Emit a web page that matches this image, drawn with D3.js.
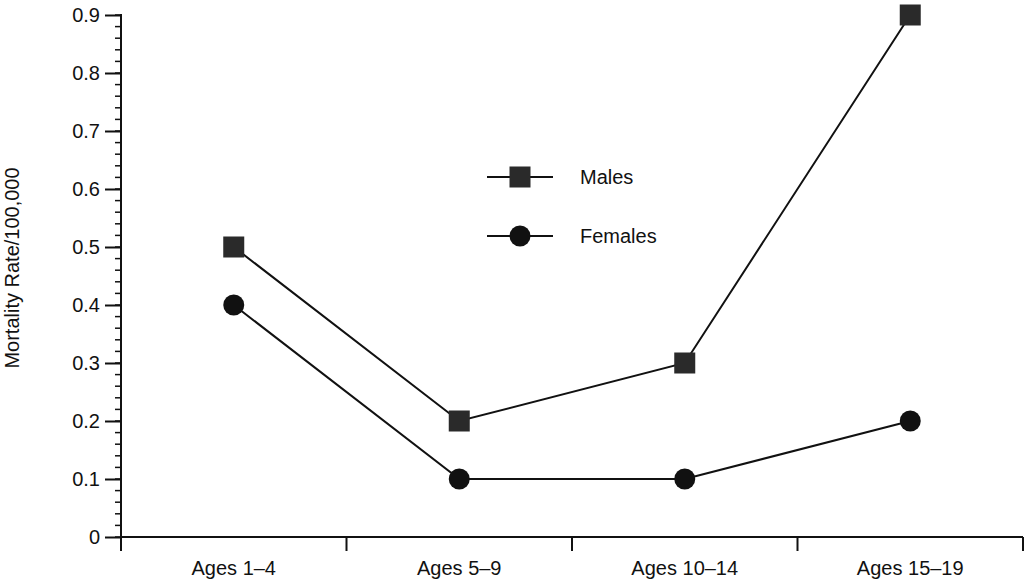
<!DOCTYPE html>
<html>
<head>
<meta charset="utf-8">
<script src="https://cdn.jsdelivr.net/npm/d3@7/dist/d3.min.js"></script>
<style>
  html, body { margin: 0; padding: 0; background: #fff; }
  svg { display: block; }
  text { font-family: "Liberation Sans", Arial, Helvetica, sans-serif; fill: #111; }
</style>
</head>
<body>
<svg id="chart" width="1025" height="584"></svg>
<script>
const categories = ["Ages 1–4", "Ages 5–9", "Ages 10–14", "Ages 15–19"];
const males = [0.5, 0.2, 0.3, 0.9];
const females = [0.4, 0.1, 0.1, 0.2];
const yTicks = [0, 0.1, 0.2, 0.3, 0.4, 0.5, 0.6, 0.7, 0.8, 0.9];
const yTickLabels = ["0", "0.1", "0.2", "0.3", "0.4", "0.5", "0.6", "0.7", "0.8", "0.9"];
const seriesNames = ["Males", "Females"];
const yLabel = "Mortality Rate/100,000";

(function () {
const svg = d3.select("#chart");
const mL = 121, mR = 1023, mT = 15, mB = 537;
const FS = 20;

const x = d3.scaleBand().domain(categories).range([mL, mR]).padding(0);
const y = d3.scaleLinear().domain([0, 0.9]).range([mB, mT]);

// Y axis
const yAxisG = svg.append("g").attr("transform", `translate(${mL},0)`);
const minor = d3.range(0, 0.9001, 0.02).map(v => +v.toFixed(2));
yAxisG.selectAll("line.minor").data(minor).join("line").attr("class", "minor")
  .attr("x1", -6).attr("x2", 0)
  .attr("y1", d => y(d)).attr("y2", d => y(d))
  .attr("stroke", "#111").attr("stroke-width", 1.5);
const yAxis = d3.axisLeft(y).tickValues(yTicks)
  .tickFormat((d, i) => yTickLabels[i]).tickSize(16).tickPadding(5);
yAxisG.call(yAxis);
yAxisG.select(".domain").remove();
yAxisG.append("line").attr("x1", 0).attr("x2", 0).attr("y1", mT - 1).attr("y2", mB + 14)
  .attr("stroke", "#111").attr("stroke-width", 2);
yAxisG.selectAll(".tick line").attr("stroke", "#111").attr("stroke-width", 2);
yAxisG.selectAll(".tick text").attr("font-size", FS).style("font-family", '"Liberation Sans", Arial, sans-serif').attr("fill", "#111");

// X axis
const xAxisG = svg.append("g").attr("transform", `translate(0,${mB})`);
xAxisG.append("line").attr("x1", mL).attr("x2", mR).attr("y1", 0).attr("y2", 0)
  .attr("stroke", "#111").attr("stroke-width", 2);
const bounds = categories.map(c => x(c)).concat([mR]);
xAxisG.selectAll("line.xt").data(bounds.slice(1)).join("line").attr("class", "xt")
  .attr("x1", d => d).attr("x2", d => d).attr("y1", 0).attr("y2", 14)
  .attr("stroke", "#111").attr("stroke-width", 2);
xAxisG.selectAll("text.xl").data(categories).join("text").attr("class", "xl")
  .attr("x", d => x(d) + x.bandwidth() / 2).attr("y", 38)
  .attr("text-anchor", "middle").attr("font-size", FS).text(d => d);

// Y label
svg.append("text")
  .attr("transform", `translate(19,268) rotate(-90)`)
  .attr("text-anchor", "middle").attr("font-size", FS).text(yLabel);

const cx = i => x(categories[i]) + x.bandwidth() / 2;
const line = d3.line().x((d, i) => cx(i)).y(d => y(d));

[males, females].forEach(s => {
  svg.append("path").datum(s).attr("d", line)
    .attr("fill", "none").attr("stroke", "#111").attr("stroke-width", 2);
});

const sq = 21, cr = 10.5;
const markerFill = "#2a2a2a";
svg.selectAll("rect.m").data(males).join("rect").attr("class", "m")
  .attr("x", (d, i) => cx(i) - sq / 2).attr("y", d => y(d) - sq / 2)
  .attr("width", sq).attr("height", sq).attr("fill", markerFill);
svg.selectAll("circle.f").data(females).join("circle").attr("class", "f")
  .attr("cx", (d, i) => cx(i)).attr("cy", d => y(d))
  .attr("r", cr).attr("fill", "#111");

// Legend
const legend = svg.append("g");
const legY = [177, 236];
legend.selectAll("line").data(seriesNames).join("line")
  .attr("x1", 487).attr("x2", 553).attr("y1", (d, i) => legY[i]).attr("y2", (d, i) => legY[i])
  .attr("stroke", "#111").attr("stroke-width", 2);
legend.append("rect").attr("x", 520 - sq / 2).attr("y", legY[0] - sq / 2).attr("width", sq).attr("height", sq).attr("fill", markerFill);
legend.append("circle").attr("cx", 520).attr("cy", legY[1]).attr("r", cr).attr("fill", "#111");
legend.selectAll("text").data(seriesNames).join("text")
  .attr("x", 580).attr("y", (d, i) => legY[i]).attr("dy", "0.35em")
  .attr("font-size", FS).text(d => d);
})();
</script>
</body>
</html>
